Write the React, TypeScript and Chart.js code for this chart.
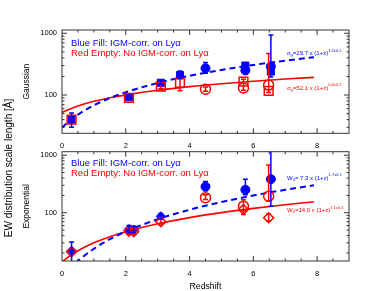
import React, { useEffect, useRef } from 'react';
import { Chart, registerables } from 'chart.js';

Chart.register(...registerables);

const FONT = "'Liberation Sans', Arial, Helvetica, sans-serif";
const BLUE = '#0000ff';
const RED = '#ff0000';

// ---------- shared axis values ----------
const xTickValues = [0, 2, 4, 6, 8];
const yTickValues = [100, 1000];

// ---------- Gaussian panel (top) ----------
const gBlueSqZ = [0.3, 2.1, 3.1, 3.7, 5.75, 6.55];
const gBlueSqV = [40, 92, 158, 210, 300, 240];
const gBlueCiZ = [4.5, 5.75, 6.55];
const gBlueCiV = [271, 250, 290];
const gRedSqZ = [0.3, 2.1, 3.1, 3.7, 5.69, 6.48];
const gRedSqV = [40, 90, 137, 158, 165, 117];
const gRedCiZ = [4.5, 5.69, 6.48];
const gRedCiV = [124, 130, 145];

const gBlueErrZ = [0.3, 2.1, 3.1, 3.7, 4.5, 6.55];
const gBlueErrLo = [30, 84, 148, 185, 225, 195];
const gBlueErrHi = [51, 100, 168, 245, 335, 940];
const gRedErrZ = [2.1, 3.1, 3.7, 4.5, 5.69, 6.48];
const gRedErrLo = [84, 128, 117, 115, 120, 110];
const gRedErrHi = [98, 150, 185, 135, 180, 470];

// fit curves
const fitZ = [0, 0.25, 0.5, 1, 1.5, 2, 3, 4, 5, 6, 7, 7.9];
const gBlueFit = [29.7, 38.8, 48.3, 68.2, 89.2, 111.0, 156.8, 204.9, 255.0, 306.8, 360.2, 409.3];
const gRedFit = [52.1, 59.6, 66.5, 79.0, 90.3, 100.7, 119.7, 136.9, 152.7, 167.5, 181.4, 193.4];

// ---------- Exponential panel (bottom) ----------
const eBlueDiZ = [0.3, 2.1, 2.25, 3.1];
const eBlueDiV = [22, 52, 51, 87];
const eBlueCiZ = [4.5, 5.75, 6.55];
const eBlueCiV = [284, 251, 383];
const eRedDiZ = [0.3, 2.1, 2.25, 3.1, 5.69, 6.48];
const eRedDiV = [21, 48, 47, 70, 114, 82];
const eRedCiZ = [4.5, 5.69, 6.48];
const eRedCiV = [183, 130, 193];

const eBlueErrZ = [0.3, 2.1, 2.25, 3.1, 4.5, 5.75, 6.55];
const eBlueErrLo = [12, 45, 45, 78, 240, 206, 130];
const eBlueErrHi = [31, 60, 58, 97, 348, 383, 3000];
const eRedErrZ = [2.1, 2.25, 3.1, 4.5, 5.69, 6.48, 6.48];
const eRedErrLo = [42, 42, 64, 170, 93, 160, 72];
const eRedErrHi = [54, 53, 77, 205, 169, 673, 95];

const eBlueFit = [7.3, 10.7, 14.5, 23.7, 34.7, 47.3, 77.1, 112.6, 153.5, 199.5, 250.4, 300.0];
const eRedFit = [14.0, 17.9, 21.9, 30.0, 38.4, 46.9, 64.3, 82.2, 100.5, 119.0, 137.9, 155.0];

const pts = (z: number[], v: number[]) => z.map((x, i) => ({ x, y: v[i] }));

type Part = { t: string; s: number; dy?: number; it?: boolean };
function richText(ctx: CanvasRenderingContext2D, x: number, y: number, parts: Part[], color: string) {
  ctx.fillStyle = color;
  ctx.textBaseline = 'middle';
  ctx.textAlign = 'left';
  let cx = x;
  for (const p of parts) {
    ctx.font = `${p.it ? 'italic ' : ''}${p.s}px ${FONT}`;
    ctx.fillText(p.t, cx, y + (p.dy || 0));
    cx += ctx.measureText(p.t).width;
  }
}

type ErrSet = { z: number[]; lo: number[]; hi: number[]; color: string };
type TextItem = { x: number; y: number; parts: Part[]; color: string };

function decorPlugin(errs: ErrSet[], texts: TextItem[], bigTitle: boolean) {
  return {
    id: 'decor',
    afterDatasetsDraw(chart: any) {
      const ctx: CanvasRenderingContext2D = chart.ctx;
      const xs = chart.scales.x;
      const ys = chart.scales.y;
      const a = chart.chartArea;
      ctx.save();
      ctx.beginPath();
      ctx.rect(a.left, a.top, a.right - a.left, a.bottom - a.top);
      ctx.clip();
      ctx.lineWidth = 1.5;
      for (const e of errs) {
        ctx.strokeStyle = e.color;
        e.z.forEach((z, i) => {
          const px = xs.getPixelForValue(z);
          const y1 = ys.getPixelForValue(e.lo[i]);
          const y2 = ys.getPixelForValue(e.hi[i]);
          ctx.beginPath();
          ctx.moveTo(px, y1);
          ctx.lineTo(px, y2);
          ctx.moveTo(px - 2.5, y1);
          ctx.lineTo(px + 2.5, y1);
          ctx.moveTo(px - 2.5, y2);
          ctx.lineTo(px + 2.5, y2);
          ctx.stroke();
        });
      }
      ctx.restore();
    },
    afterDraw(chart: any) {
      const ctx: CanvasRenderingContext2D = chart.ctx;
      const xs = chart.scales.x;
      const ys = chart.scales.y;
      const a = chart.chartArea;
      ctx.save();
      ctx.strokeStyle = '#333';
      ctx.lineWidth = 1;
      ctx.strokeRect(a.left, a.top, a.right - a.left, a.bottom - a.top);
      ctx.beginPath();
      for (let v = 0.5; v < xs.max; v += 0.5) {
        const px = xs.getPixelForValue(v);
        const len = Math.abs(v % 2) < 1e-6 ? 5 : 2.5;
        ctx.moveTo(px, a.bottom);
        ctx.lineTo(px, a.bottom - len);
        ctx.moveTo(px, a.top);
        ctx.lineTo(px, a.top + len);
      }
      for (let d = 10; d <= 1000; d *= 10) {
        for (let m = 1; m <= 9; m++) {
          const v = m * d;
          if (v <= ys.min || v >= ys.max) continue;
          const py = ys.getPixelForValue(v);
          const len = m === 1 ? 5 : 2.5;
          ctx.moveTo(a.left, py);
          ctx.lineTo(a.left + len, py);
          ctx.moveTo(a.right, py);
          ctx.lineTo(a.right - len, py);
        }
      }
      ctx.stroke();
      for (const t of texts) richText(ctx, t.x, t.y, t.parts, t.color);
      if (bigTitle) {
        ctx.translate(9, 168);
        ctx.rotate(-Math.PI / 2);
        ctx.fillStyle = '#000';
        ctx.font = `10px ${FONT}`;
        ctx.textAlign = 'center';
        ctx.textBaseline = 'middle';
        ctx.fillText('EW distribution scale length [Å]', 0, 0);
      }
      ctx.restore();
    },
  };
}

function markerSet(data: any[], style: string, filled: boolean, color: string, r: number) {
  return {
    data,
    showLine: false,
    pointStyle: style,
    pointRadius: r,
    pointBorderWidth: filled ? 1 : 1.5,
    pointBackgroundColor: filled ? color : 'rgba(0,0,0,0)',
    pointBorderColor: color,
    backgroundColor: filled ? color : 'rgba(0,0,0,0)',
    borderColor: color,
    order: filled ? 2 : 1,
  };
}

function fitSet(v: number[], color: string, dashed: boolean) {
  return {
    data: pts(fitZ, v),
    showLine: true,
    pointRadius: 0,
    borderColor: color,
    backgroundColor: color,
    borderWidth: dashed ? 2 : 1.6,
    borderDash: dashed ? [6, 4] : [],
    cubicInterpolationMode: 'monotone',
    order: 5,
  };
}

type PanelOpts = {
  datasets: any[];
  padding: any;
  xHeight: number;
  xPad: number;
  ymin: number;
  ymax: number;
  yTitle: string;
  xTitle: string | null;
};

function panelConfig(p: PanelOpts, plugin: any): any {
  return {
    type: 'scatter',
    data: { datasets: p.datasets },
    options: {
      responsive: false,
      animation: false,
      devicePixelRatio: 1,
      events: [],
      layout: { padding: p.padding },
      plugins: { legend: { display: false }, tooltip: { enabled: false } },
      scales: {
        x: {
          type: 'linear',
          min: 0,
          max: 9,
          position: 'bottom',
          grid: { display: false, drawTicks: false },
          border: { display: false },
          afterBuildTicks: (s: any) => {
            s.ticks = xTickValues.map((v) => ({ value: v }));
          },
          afterFit: (s: any) => {
            s.height = p.xHeight;
          },
          ticks: {
            padding: p.xPad,
            color: '#000',
            font: { family: FONT, size: 7.5 },
            maxRotation: 0,
            callback: (v: any) => String(v),
          },
          title: p.xTitle
            ? {
                display: true,
                text: p.xTitle,
                color: '#000',
                font: { family: FONT, size: 8.7, lineHeight: 1 },
                padding: { top: 0, bottom: 0 },
              }
            : { display: false },
        },
        y: {
          type: 'logarithmic',
          min: p.ymin,
          max: p.ymax,
          position: 'left',
          grid: { display: false, drawTicks: false },
          border: { display: false },
          afterBuildTicks: (s: any) => {
            s.ticks = yTickValues.map((v) => ({ value: v }));
          },
          afterFit: (s: any) => {
            s.width = 62;
          },
          ticks: {
            padding: 5,
            color: '#000',
            font: { family: FONT, size: 7.5 },
            callback: (v: any) => String(v),
          },
          title: {
            display: true,
            text: p.yTitle,
            color: '#000',
            font: { family: FONT, size: 8.5, lineHeight: 1 },
            padding: { top: 22.75, bottom: 0 },
          },
        },
      },
    },
    plugins: [plugin],
  };
}

const legendBlue = 'Blue Fill: IGM-corr. on Lyα';
const legendRed = 'Red Empty: No IGM-corr. on Lyα';

export default function App() {
  const topRef = useRef<HTMLCanvasElement>(null);
  const botRef = useRef<HTMLCanvasElement>(null);

  useEffect(() => {
    const topTexts: TextItem[] = [
      { x: 71, y: 43, parts: [{ t: legendBlue, s: 9.5 }], color: BLUE },
      { x: 71, y: 53.5, parts: [{ t: legendRed, s: 9.5 }], color: RED },
      {
        x: 287, y: 53.5, color: BLUE,
        parts: [{ t: 'σ', s: 6, it: true }, { t: 'g', s: 4, dy: 1.5 }, { t: '=29.7 x (1+z)', s: 6 }, { t: '1.2±0.1', s: 4, dy: -3 }],
      },
      {
        x: 287, y: 88.3, color: RED,
        parts: [{ t: 'σ', s: 6, it: true }, { t: 'g', s: 4, dy: 1.5 }, { t: '=52.1 x (1+z)', s: 6 }, { t: '0.6±0.1', s: 4, dy: -3 }],
      },
    ];
    const botTexts: TextItem[] = [
      { x: 71, y: 163, parts: [{ t: legendBlue, s: 9.5 }], color: BLUE },
      { x: 71, y: 173.5, parts: [{ t: legendRed, s: 9.5 }], color: RED },
      {
        x: 287, y: 178.3, color: BLUE,
        parts: [{ t: 'W', s: 6 }, { t: '0', s: 4, dy: 1.5 }, { t: '= 7.3 x (1+z)', s: 6 }, { t: '1.7±0.1', s: 4, dy: -3 }],
      },
      {
        x: 287, y: 210.7, color: RED,
        parts: [{ t: 'W', s: 6 }, { t: '0', s: 4, dy: 1.5 }, { t: '=14.0 x (1+z)', s: 6 }, { t: '1.1±0.1', s: 4, dy: -3 }],
      },
    ];

    const topCfg = panelConfig(
      {
        datasets: [
          fitSet(gBlueFit, BLUE, true),
          fitSet(gRedFit, RED, false),
          markerSet(pts(gBlueSqZ, gBlueSqV), 'rect', true, BLUE, 5),
          markerSet(pts(gBlueCiZ, gBlueCiV), 'circle', true, BLUE, 4.5),
          markerSet(pts(gRedSqZ, gRedSqV), 'rect', false, RED, 6.2),
          markerSet(pts(gRedCiZ, gRedCiV), 'circle', false, RED, 5),
        ],
        padding: { left: 0, right: 39, top: 30, bottom: 136 },
        xHeight: 21.7,
        xPad: 7.8,
        ymin: 24,
        ymax: 1130,
        yTitle: 'Gaussian',
        xTitle: null,
      },
      decorPlugin(
        [
          { z: gRedErrZ, lo: gRedErrLo, hi: gRedErrHi, color: RED },
          { z: gBlueErrZ, lo: gBlueErrLo, hi: gBlueErrHi, color: BLUE },
        ],
        topTexts,
        true,
      ),
    );

    const botCfg = panelConfig(
      {
        datasets: [
          fitSet(eBlueFit, BLUE, true),
          fitSet(eRedFit, RED, false),
          markerSet(pts(eBlueDiZ, eBlueDiV), 'rectRot', true, BLUE, 4.5),
          markerSet(pts(eBlueCiZ, eBlueCiV), 'circle', true, BLUE, 4.5),
          markerSet(pts(eRedDiZ, eRedDiV), 'rectRot', false, RED, 5),
          markerSet(pts(eRedCiZ, eRedCiV), 'circle', false, RED, 5),
        ],
        padding: { left: 0, right: 39, top: 151.7, bottom: 0 },
        xHeight: 30,
        xPad: 8.8,
        ymin: 14.5,
        ymax: 1150,
        yTitle: 'Exponential',
        xTitle: 'Redshift',
      },
      decorPlugin(
        [
          { z: eRedErrZ, lo: eRedErrLo, hi: eRedErrHi, color: RED },
          { z: eBlueErrZ, lo: eBlueErrLo, hi: eBlueErrHi, color: BLUE },
        ],
        botTexts,
        false,
      ),
    );

    const c2 = new Chart(botRef.current as HTMLCanvasElement, botCfg);
    const c1 = new Chart(topRef.current as HTMLCanvasElement, topCfg);
    return () => {
      c1.destroy();
      c2.destroy();
    };
  }, []);

  return (
    <div style={{ position: 'fixed', left: 0, top: 0, width: 388, height: 291, background: '#fff' }}>
      <canvas ref={botRef} width={388} height={291} style={{ position: 'absolute', left: 0, top: 0 }} />
      <canvas ref={topRef} width={388} height={291} style={{ position: 'absolute', left: 0, top: 0 }} />
    </div>
  );
}
